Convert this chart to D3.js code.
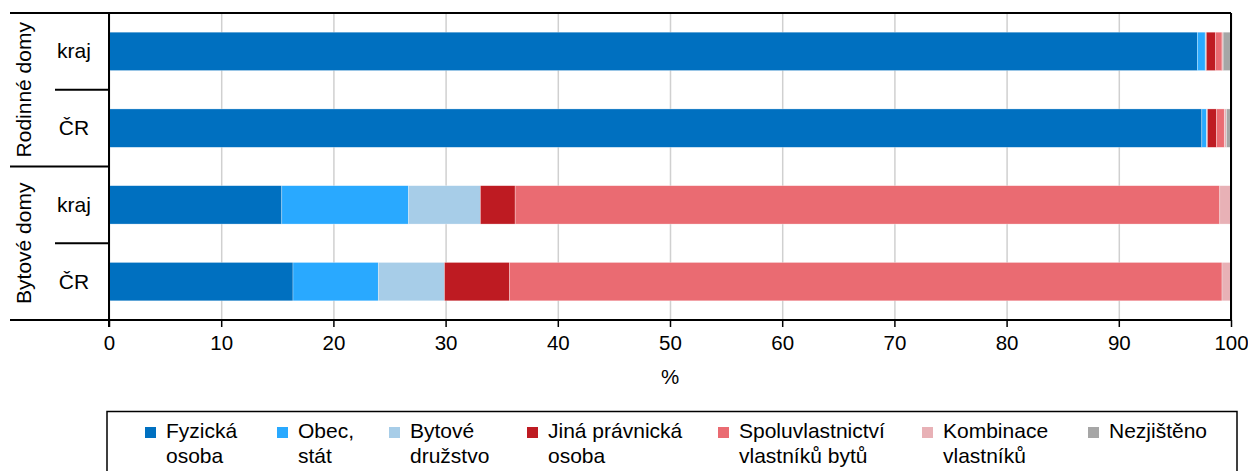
<!DOCTYPE html>
<html>
<head>
<meta charset="utf-8">
<script src="https://cdn.jsdelivr.net/npm/d3@7"></script>
<style>
  body { margin: 0; background: #fff; }
  svg text { font-family: "Liberation Sans", Arial, sans-serif; fill: #000; }
</style>
</head>
<body>
<svg id="chart" width="1248" height="471"></svg>
<script>
// data (values in %)
var rows = ["RD kraj", "RD ČR", "BD kraj", "BD ČR"];
var rowLabels = ["kraj", "ČR", "kraj", "ČR"];
var groups = ["Rodinné domy", "Bytové domy"];
var series = ["Fyzická osoba", "Obec, stát", "Bytové družstvo", "Jiná právnická osoba",
              "Spoluvlastnictví vlastníků bytů", "Kombinace vlastníků", "Nezjištěno"];
var legendLines = [["Fyzická", "osoba"], ["Obec,", "stát"], ["Bytové", "družstvo"],
                   ["Jiná právnická", "osoba"], ["Spoluvlastnictví", "vlastníků bytů"],
                   ["Kombinace", "vlastníků"], ["Nezjištěno"]];
var fyzicka   = [97.0, 97.4, 15.4, 16.4];
var obec      = [0.7, 0.4, 11.3, 7.6];
var druzstvo  = [0.1, 0.1, 6.4, 5.9];
var jina      = [0.8, 0.8, 3.1, 5.8];
var spoluvl   = [0.6, 0.7, 62.8, 63.5];
var kombinace = [0.1, 0.2, 1.0, 0.8];
var nezjisteno = [0.7, 0.4, 0.0, 0.0];
var xTicks = [0, 10, 20, 30, 40, 50, 60, 70, 80, 90, 100];

var colors = ["#0070c0", "#29a9ff", "#a7cde8", "#be1b22", "#ea6b72", "#e8b1b6", "#a6a6a6"];

var svg = d3.select("#chart"),
    margin = {top: 13, right: 17, bottom: 151, left: 109},
    width = 1248 - margin.left - margin.right,
    height = 471 - margin.top - margin.bottom,
    g = svg.append("g").attr("transform", "translate(" + margin.left + "," + margin.top + ")");

// build table for stack
var allSeries = [fyzicka, obec, druzstvo, jina, spoluvl, kombinace, nezjisteno];
var table = rows.map(function(r, i) {
    var o = {row: r};
    series.forEach(function(s, j) { o[s] = allSeries[j][i]; });
    return o;
});
var stacked = d3.stack().keys(series)(table);

var x = d3.scaleLinear().domain([0, 100]).range([0, width]);
var y = d3.scaleBand().domain(rows).range([0, height]).paddingInner(0.5).paddingOuter(0.25);

// gridlines
g.append("g")
    .attr("class", "grid")
    .call(d3.axisBottom(x).tickValues(xTicks).tickSize(height).tickFormat(""))
    .call(function(s) {
        s.select(".domain").remove();
        s.selectAll("line").attr("stroke", "#d0d0d0").attr("stroke-width", 1.5);
    });

// bars
g.selectAll(".serie")
    .data(stacked)
    .enter().append("g")
    .attr("class", "serie")
    .attr("fill", function(d, i) { return colors[i]; })
    .selectAll("rect")
    .data(function(d) { return d; })
    .enter().append("rect")
    .attr("x", function(d) { return x(d[0]); })
    .attr("y", function(d) { return y(d.data.row); })
    .attr("width", function(d) { return Math.max(0, x(d[1]) - x(d[0])); })
    .attr("height", y.bandwidth())
    .attr("stroke", "#fff")
    .attr("stroke-opacity", 0.5)
    .attr("stroke-width", 0.6);

// x axis
g.append("g")
    .attr("class", "axis axis--x")
    .attr("transform", "translate(0," + height + ")")
    .call(d3.axisBottom(x).tickValues(xTicks).tickSize(7).tickPadding(8))
    .call(function(s) {
        s.select(".domain").remove();
        s.selectAll("line").attr("stroke", "#000").attr("stroke-width", 1.5);
        s.selectAll("text").attr("font-size", 20.5).attr("fill", "#000");
    });

// frame
var frame = g.append("g").attr("stroke", "#000").attr("stroke-width", 2).attr("fill", "none");
frame.append("line").attr("x1", -99).attr("x2", width).attr("y1", 0).attr("y2", 0);
frame.append("line").attr("x1", -99).attr("x2", width).attr("y1", height).attr("y2", height);
frame.append("line").attr("x1", 0).attr("x2", 0).attr("y1", 0).attr("y2", height + 7);
frame.append("line").attr("x1", width).attr("x2", width).attr("y1", 0).attr("y2", height);

// category table at left
var step = y.step();
frame.append("line").attr("x1", -99).attr("x2", 0)
    .attr("y1", y(rows[2]) - step * 0.25).attr("y2", y(rows[2]) - step * 0.25);
[rows[1], rows[3]].forEach(function(r) {
    var yy = y(r) - step * 0.25;
    frame.append("line").attr("x1", -54).attr("x2", 0).attr("y1", yy).attr("y2", yy);
});

g.selectAll(".rowlabel")
    .data(rows)
    .enter().append("text")
    .attr("class", "rowlabel")
    .attr("x", -35)
    .attr("y", function(d) { return y(d) + y.bandwidth() / 2 + 7; })
    .attr("text-anchor", "middle")
    .attr("font-size", 21)
    .text(function(d, i) { return rowLabels[i]; });

g.selectAll(".grouplabel")
    .data(groups)
    .enter().append("text")
    .attr("class", "grouplabel")
    .attr("text-anchor", "middle")
    .attr("font-size", 21)
    .attr("transform", function(d, i) {
        var cy = y(rows[i * 2]) - step * 0.25 + step;
        return "translate(-78," + cy + ") rotate(-90)";
    })
    .text(function(d) { return d; });

// axis title
svg.append("text")
    .attr("text-anchor", "middle")
    .attr("x", margin.left + width / 2)
    .attr("y", 384)
    .attr("font-size", 20.5)
    .text("%");

// legend
var legendX = [145, 277, 389, 527, 718, 922, 1088];
var legend = svg.append("g");
legend.append("rect")
    .attr("x", 107).attr("y", 411.5).attr("width", 1130).attr("height", 80)
    .attr("fill", "none").attr("stroke", "#000").attr("stroke-width", 1.5);

var items = legend.selectAll(".item")
    .data(series)
    .enter().append("g")
    .attr("class", "item")
    .attr("transform", function(d, i) { return "translate(" + legendX[i] + ",0)"; });

items.append("rect")
    .attr("x", 0).attr("y", 427).attr("width", 11).attr("height", 11)
    .attr("fill", function(d, i) { return colors[i]; });

items.each(function(d, i) {
    var t = d3.select(this).append("text").attr("font-size", 21);
    legendLines[i].forEach(function(line, k) {
        t.append("tspan").attr("x", 21).attr("y", 438 + k * 25).text(line);
    });
});
</script>
</body>
</html>
